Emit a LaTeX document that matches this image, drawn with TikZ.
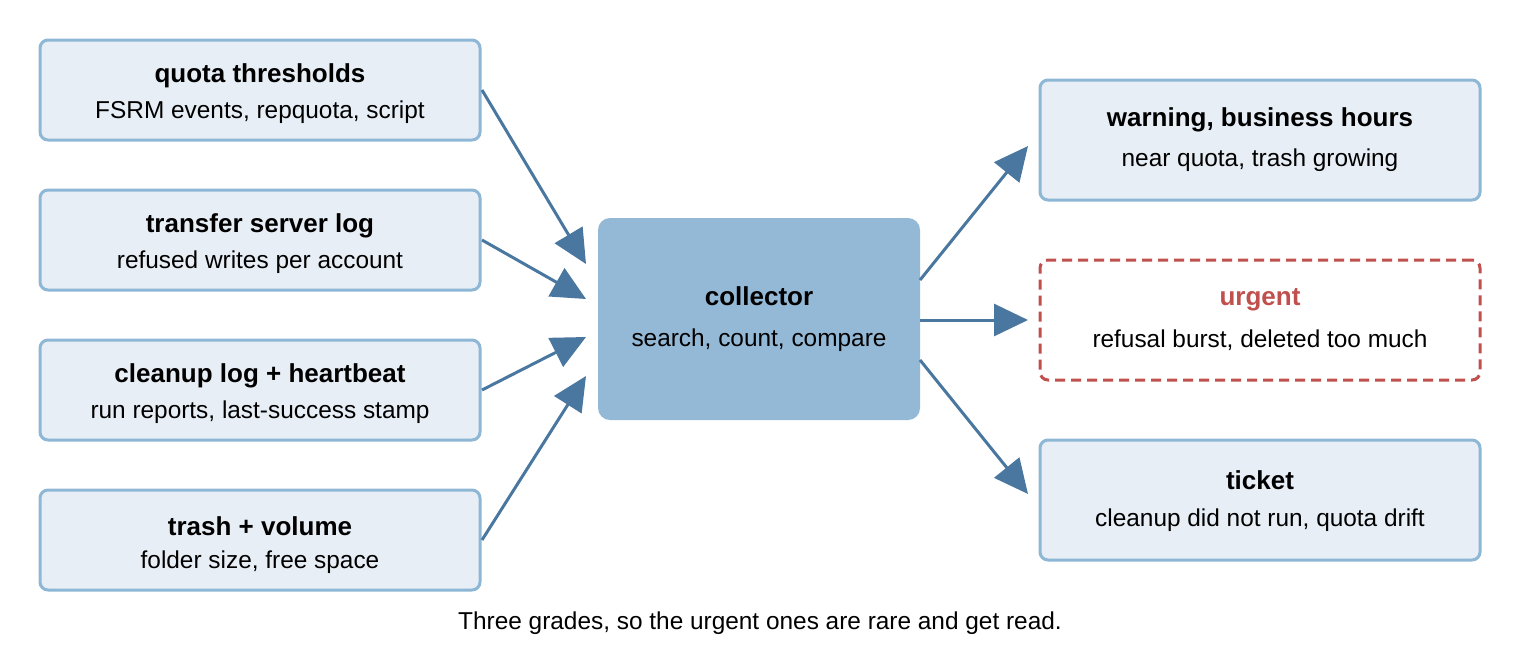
\documentclass[tikz,border=0pt]{standalone}
\usepackage{fontspec}
\setmainfont{Liberation Sans}
\usetikzlibrary{arrows.meta}
\definecolor{boxfill}{HTML}{E8EEF5}
\definecolor{boxline}{HTML}{8DB7D5}
\definecolor{coll}{HTML}{93B9D6}
\definecolor{arr}{HTML}{4A77A0}
\definecolor{urg}{HTML}{C0504D}
\begin{document}
\begin{tikzpicture}[x=0.5pt,y=-0.5pt,
  box/.style={draw=boxline,line width=1.5pt,fill=boxfill,rounded corners=4pt,minimum width=220pt,align=center,inner sep=0pt},
  t/.style={font=\bfseries\fontsize{13}{15}\selectfont},
  s/.style={font=\fontsize{12.2}{14}\selectfont},
  conn/.style={draw=arr,line width=1.5pt,-{Triangle[length=17pt,width=16pt]}}]
\useasboundingbox (0,0) rectangle (1520,660);
\node[box,minimum height=50pt] (q) at (260,90) {};
\node[box,minimum height=50pt] (tr) at (260,240) {};
\node[box,minimum height=50pt] (cl) at (260,390) {};
\node[box,minimum height=50pt] (tv) at (260,540) {};
\node[t] at (260,76) {quota thresholds};
\node[s] at (260,112) {FSRM events, repquota, script};
\node[t] at (260,226) {transfer server log};
\node[s] at (260,262) {refused writes per account};
\node[t] at (260,376) {cleanup log + heartbeat};
\node[s] at (260,412) {run reports, last-success stamp};
\node[t] at (260,526) {trash + volume};
\node[s] at (260,562) {folder size, free space};
\node[fill=coll,rounded corners=6pt,minimum width=161pt,minimum height=101pt] (c) at (759,319) {};
\node[t] at (759,296) {collector};
\node[s] at (759,340) {search, count, compare};
\node[box,minimum height=60pt] (w) at (1260,140) {};
\node[t] at (1260,120) {warning, business hours};
\node[s] at (1260,160) {near quota, trash growing};
\node[box,draw=urg,fill=white,dashed,dash pattern=on 5pt off 3pt,minimum height=60pt] (u) at (1260,320) {};
\node[t,text=urg] at (1260,300) {urgent};
\node[s] at (1260,340) {refusal burst, deleted too much};
\node[box,minimum height=60pt] (tk) at (1260,500) {};
\node[t] at (1260,480) {ticket};
\node[s] at (1260,520) {cleanup did not run, quota drift};
\node[s] (cap) at (760,623) {Three grades, so the urgent ones are rare and get read.};
\coordinate (i1) at (586,264); \coordinate (i2) at (586,299);
\coordinate (i3) at (586,337); \coordinate (i4) at (586,376);
\coordinate (o1) at (1028,146); \coordinate (o2) at (1028,320); \coordinate (o3) at (1028,494);
\draw[conn] (482,90) -- (i1);
\draw[conn] (482,240) -- (i2);
\draw[conn] (482,390) -- (i3);
\draw[conn] (482,540) -- (i4);
\draw[conn] (920,280) -- (o1);
\draw[conn] (920,320) -- (o2);
\draw[conn] (920,360) -- (o3);
\end{tikzpicture}
\end{document}
